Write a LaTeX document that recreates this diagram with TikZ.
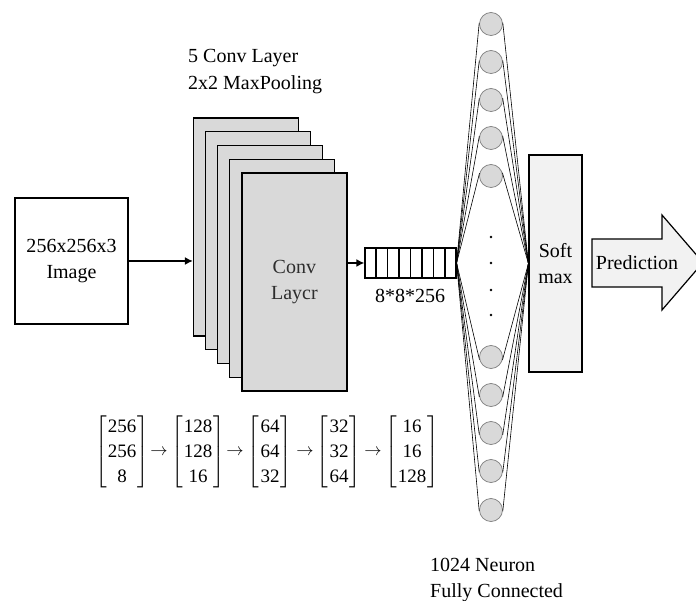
\documentclass[tikz,border=0pt]{standalone}
\usepackage{amsmath}
\usepackage{fontspec}
\setmainfont{Liberation Serif}
\usetikzlibrary{calc,arrows.meta}

\definecolor{layergray}{HTML}{D9D9D9}
\definecolor{lightfill}{HTML}{F2F2F2}
\definecolor{ringgray}{HTML}{7F7F7F}
\definecolor{labelgray}{HTML}{2E2E2E}

% a column vector of sizes set in text digits between square brackets
\newcommand{\sizevec}[3]{$\left[\vcenter{\hbox{\begin{tabular}{@{\hspace{1pt}}c@{\hspace{1pt}}}#1\\#2\\#3\end{tabular}}}\right]$}

\begin{document}
\begin{tikzpicture}[x=1pt,y=-1pt,
  txt/.style={font=\fontsize{20}{26.5}\selectfont, align=center, inner sep=0pt},
  box/.style={draw=black, line width=1.2pt, inner sep=0pt},
  layer/.style={box, fill=layergray, minimum width=105pt, minimum height=218pt},
  neuron/.style={circle, draw=ringgray, line width=0.7pt, fill=layergray,
                 minimum size=23pt, inner sep=0pt},
  wire/.style={line width=0.6pt, black},
  flow/.style={line width=1.8pt, -{Latex[length=8pt,width=8pt]}},
  mat/.style={font=\fontsize{19}{25}\selectfont, inner sep=0pt}
]
\clip (0,0) rectangle (696,601);
\fill[white] (0,0) rectangle (696,601);

% input image
\node[box, txt, minimum width=113pt, minimum height=126pt] (img) at (71.5,261)
  {256x256x3\\Image};

% convolution stack
\node[txt, align=left, anchor=west] (title) at (188,71.5)
  {5 Conv Layer\\2x2 MaxPooling};
\foreach \i in {1,...,4}
  \node[layer] (l\i) at ({246+12.1*(\i-1)}, {227+13.75*(\i-1)}) {};
\node[layer, txt, text=labelgray] (l5) at (294.4,282) {Conv\\Laycr};
\draw[flow] (img.east) -- (img.east -| l1.west);

% flattened vector
\node[box, minimum width=91pt, minimum height=30pt] (flat) at (410.5,263) {};
\foreach \k in {1,...,7}
  \draw[line width=1.2pt] ($(flat.north west)!\k/8!(flat.north east)$)
    -- ($(flat.south west)!\k/8!(flat.south east)$);
\draw[flow] (flat.west -| l5.east) -- (flat.west);
\node[txt] (flatlbl) at (410,296) {8*8*256};

% softmax
\node[box, txt, fill=lightfill, minimum width=53pt, minimum height=217pt] (soft)
  at (555.5,263.5) {Soft\\max};

% fully connected neurons
\foreach \y [count=\n] in {24,62,100,138,176,357,395,433,471,510}
  \node[neuron] (n\n) at (491,\y) {};
\foreach \n in {1,...,5} {
  \draw[wire] (flat.east) -- (tangent cs:node=n\n, point={(flat.east)}, solution=2);
  \draw[wire] (soft.west) -- (tangent cs:node=n\n, point={(soft.west)}, solution=1);
}
\foreach \n in {6,...,10} {
  \draw[wire] (flat.east) -- (tangent cs:node=n\n, point={(flat.east)}, solution=1);
  \draw[wire] (soft.west) -- (tangent cs:node=n\n, point={(soft.west)}, solution=2);
}
\foreach \y in {237,263,290,315}
  \fill (491,\y) circle (1.3pt);
\node[txt, align=left, anchor=west] (fc) at (430,580) {1024 Neuron\\Fully Connected};

% prediction arrow
\draw[line width=1.2pt, fill=lightfill] (592,239) -- (662,239) -- (662,215)
  -- (703,262.5) -- (662,310) -- (662,287) -- (592,287) -- cycle;
\node[txt] (pred) at (637,263) {Prediction};

% feature map sizes
\node[mat] (m1) at (122,452) {\sizevec{256}{256}{8}};
\node[mat] (a1) at (159,452) {$\rightarrow$};
\node[mat] (m2) at (198,452) {\sizevec{128}{128}{16}};
\node[mat] (a2) at (235,452) {$\rightarrow$};
\node[mat] (m3) at (270,452) {\sizevec{64}{64}{32}};
\node[mat] (a3) at (305,452) {$\rightarrow$};
\node[mat] (m4) at (339,452) {\sizevec{32}{32}{64}};
\node[mat] (a4) at (373,452) {$\rightarrow$};
\node[mat] (m5) at (412,452) {\sizevec{16}{16}{128}};
\end{tikzpicture}
\end{document}
